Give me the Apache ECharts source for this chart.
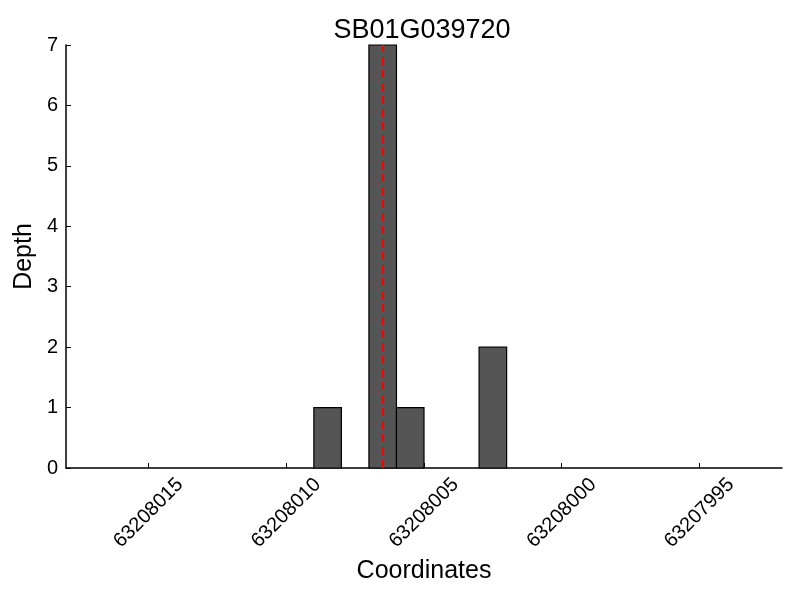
<!DOCTYPE html>
<html><head><meta charset="utf-8">
<script src="https://cdn.jsdelivr.net/npm/echarts@6/dist/echarts.min.js"></script>
<style>html,body{margin:0;padding:0;background:#fff}#c{width:800px;height:600px}</style>
</head><body><div id="c"></div>
<script>
const titleText = 'SB01G039720';
const barStarts = [63208008, 63208006, 63208005, 63208002];
const depths = [1, 7, 1, 2];
const barWidthUnits = 1;
const markerPos = [63208006.5];
const xTicks = [63208015, 63208010, 63208005, 63208000, 63207995];
const yTicks = [0, 1, 2, 3, 4, 5, 6, 7];
const xRange = [63207992, 63208018];

const font = 'Liberation Sans, Arial, sans-serif';
const chart = echarts.init(document.getElementById('c'));
chart.setOption({
  animation: false,
  title: {text: titleText, left: 417, top: 12, textAlign: 'center',
    textStyle: {fontFamily: font, fontSize: 27, fontWeight: 'normal', color: '#000'}},
  grid: {left: 66, right: 18, top: 45, bottom: 132},
  xAxis: {
    type: 'value', inverse: true, min: xRange[0], max: xRange[1],
    name: 'Coordinates', nameLocation: 'middle', nameGap: 88,
    nameTextStyle: {fontFamily: font, fontSize: 25, color: '#000'},
    axisLine: {show: true, onZero: false, lineStyle: {color: '#000', width: 1.5}},
    axisTick: {show: true, inside: true, length: 5, customValues: xTicks, lineStyle: {color: '#000'}},
    axisLabel: {customValues: xTicks, rotate: 45, margin: 45, align: 'center', verticalAlign: 'middle',
      fontFamily: font, fontSize: 20, color: '#000', formatter: v => String(v)},
    splitLine: {show: false}
  },
  yAxis: {
    type: 'value', min: 0, max: 7, interval: 1,
    name: 'Depth', nameLocation: 'middle', nameGap: 29, nameMoveOverlap: false,
    nameTextStyle: {fontFamily: font, fontSize: 25, color: '#000'},
    axisLine: {show: true, lineStyle: {color: '#000', width: 1.5}},
    axisTick: {show: true, inside: true, length: 5, lineStyle: {color: '#000'}},
    axisLabel: {margin: 8, fontFamily: font, fontSize: 20, color: '#000'},
    splitLine: {show: false}
  },
  series: [{
    type: 'custom',
    data: barStarts.map((s, i) => [s, depths[i]]),
    renderItem: function (params, api) {
      const s = api.value(0), d = api.value(1);
      const p1 = api.coord([s, d]);
      const p2 = api.coord([s + barWidthUnits, 0]);
      const x = Math.min(p1[0], p2[0]);
      return {type: 'rect',
        shape: {x: x, y: p1[1], width: Math.abs(p2[0] - p1[0]), height: p2[1] - p1[1]},
        style: {fill: '#555555', stroke: '#000', lineWidth: 1.2}};
    },
    markLine: {
      silent: true, symbol: 'none', label: {show: false},
      lineStyle: {color: '#ff0000', type: [8, 5], width: 2},
      data: markerPos.map(v => ({xAxis: v}))
    },
    z: 2
  }]
});
</script></body></html>
